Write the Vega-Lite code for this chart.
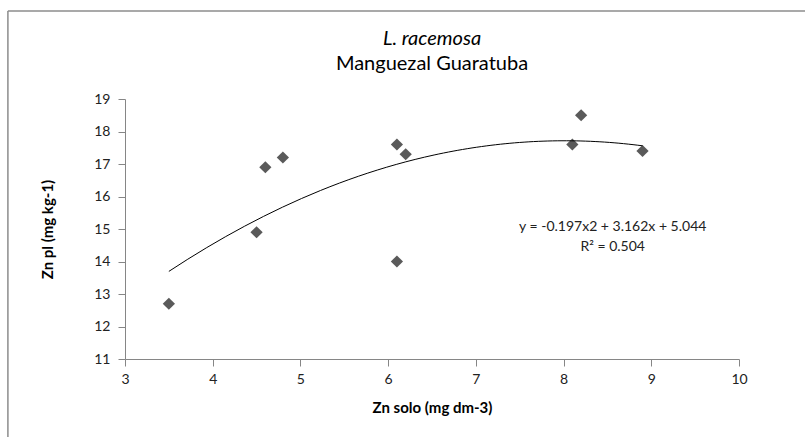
{
  "$schema": "https://vega.github.io/schema/vega-lite/v6.json",
  "autosize": "none",
  "width": 614,
  "height": 260,
  "padding": {"left": 125, "top": 99, "right": 66, "bottom": 78},
  "background": "white",
  "data": {
    "values": [
      {"zn_solo": 3.5, "zn_pl": 12.7},
      {"zn_solo": 4.5, "zn_pl": 14.9},
      {"zn_solo": 4.6, "zn_pl": 16.9},
      {"zn_solo": 4.8, "zn_pl": 17.2},
      {"zn_solo": 6.1, "zn_pl": 17.6},
      {"zn_solo": 6.1, "zn_pl": 14.0},
      {"zn_solo": 6.2, "zn_pl": 17.3},
      {"zn_solo": 8.1, "zn_pl": 17.6},
      {"zn_solo": 8.2, "zn_pl": 18.5},
      {"zn_solo": 8.9, "zn_pl": 17.4}
    ]
  },
  "title": {
    "text": "L. racemosa",
    "subtitle": "Manguezal Guaratuba",
    "anchor": "middle",
    "frame": "group",
    "font": "Lato",
    "fontSize": 20,
    "fontStyle": "italic",
    "fontWeight": "normal",
    "color": "#000000",
    "subtitleFont": "Lato",
    "subtitleFontSize": 20,
    "subtitleFontStyle": "normal",
    "subtitleColor": "#000000",
    "subtitlePadding": 5,
    "offset": -64
  },
  "config": {
    "view": {"stroke": null},
    "axis": {
      "grid": false,
      "domainColor": "#868686",
      "tickColor": "#868686",
      "labelFont": "Lato",
      "labelFontSize": 14,
      "labelColor": "#222222",
      "labelOverlap": false,
      "labelFlush": false,
      "titleFont": "Lato",
      "titleFontSize": 15,
      "titleFontWeight": "bold",
      "titleColor": "#000000",
      "tickSize": 7
    }
  },
  "layer": [
    {
      "mark": {"type": "point", "shape": "diamond", "filled": true, "color": "#5a5a5a", "size": 150, "opacity": 1},
      "encoding": {
        "x": {
          "field": "zn_solo",
          "type": "quantitative",
          "scale": {"domain": [3, 10], "nice": false, "zero": false},
          "axis": {"title": "Zn solo (mg dm-3)", "values": [3, 4, 5, 6, 7, 8, 9, 10], "format": "d", "labelPadding": 6, "titlePadding": 14}
        },
        "y": {
          "field": "zn_pl",
          "type": "quantitative",
          "scale": {"domain": [11, 19], "nice": false, "zero": false},
          "axis": {"title": "Zn pl (mg kg-1)", "values": [11, 12, 13, 14, 15, 16, 17, 18, 19], "format": "d", "labelPadding": 8, "titlePadding": 38}
        }
      }
    },
    {
      "transform": [
        {"regression": "zn_pl", "on": "zn_solo", "method": "poly", "order": 2}
      ],
      "mark": {"type": "line", "color": "#000000", "strokeWidth": 1},
      "encoding": {
        "x": {"field": "zn_solo", "type": "quantitative",
          "axis": {"title": "Zn solo (mg dm-3)", "values": [3, 4, 5, 6, 7, 8, 9, 10], "format": "d", "labelPadding": 6, "titlePadding": 14}},
        "y": {"field": "zn_pl", "type": "quantitative",
          "axis": {"title": "Zn pl (mg kg-1)", "values": [11, 12, 13, 14, 15, 16, 17, 18, 19], "format": "d", "labelPadding": 8, "titlePadding": 38}}
      }
    },
    {
      "data": {"values": [{}]},
      "mark": {"type": "rule", "color": "#8c8c8c", "strokeWidth": 1.5, "clip": false},
      "encoding": {
        "x": {"datum": 1.665, "type": "quantitative",
          "axis": {"title": "Zn solo (mg dm-3)", "values": [3, 4, 5, 6, 7, 8, 9, 10], "format": "d", "labelPadding": 6, "titlePadding": 14}},
        "y": {"datum": 21.71, "type": "quantitative",
          "axis": {"title": "Zn pl (mg kg-1)", "values": [11, 12, 13, 14, 15, 16, 17, 18, 19], "format": "d", "labelPadding": 8, "titlePadding": 38}},
        "y2": {"datum": 8.5}
      }
    },
    {
      "data": {"values": [{}]},
      "mark": {"type": "rule", "color": "#8c8c8c", "strokeWidth": 1.5, "clip": false},
      "encoding": {
        "x": {"datum": 1.665, "type": "quantitative",
          "axis": {"title": "Zn solo (mg dm-3)", "values": [3, 4, 5, 6, 7, 8, 9, 10], "format": "d", "labelPadding": 6, "titlePadding": 14}},
        "x2": {"datum": 10.9},
        "y": {"datum": 21.71, "type": "quantitative",
          "axis": {"title": "Zn pl (mg kg-1)", "values": [11, 12, 13, 14, 15, 16, 17, 18, 19], "format": "d", "labelPadding": 8, "titlePadding": 38}}
      }
    },
    {
      "data": {"values": [{}]},
      "mark": {
        "type": "text",
        "text": ["y = -0.197x2 + 3.162x + 5.044", "R² = 0.504"],
        "font": "Lato",
        "fontSize": 14,
        "fontWeight": "normal",
        "color": "#222222",
        "align": "center",
        "baseline": "middle",
        "lineHeight": 20
      },
      "encoding": {
        "x": {"datum": 8.56, "type": "quantitative",
          "axis": {"title": "Zn solo (mg dm-3)", "values": [3, 4, 5, 6, 7, 8, 9, 10], "format": "d", "labelPadding": 6, "titlePadding": 14}},
        "y": {"datum": 15.06, "type": "quantitative",
          "axis": {"title": "Zn pl (mg kg-1)", "values": [11, 12, 13, 14, 15, 16, 17, 18, 19], "format": "d", "labelPadding": 8, "titlePadding": 38}}
      }
    }
  ]
}
